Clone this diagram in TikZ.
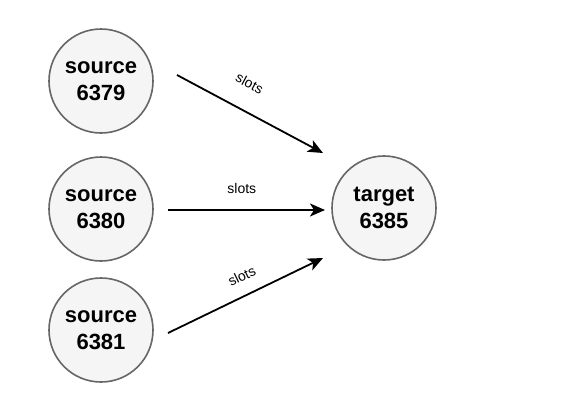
\documentclass[tikz,border=0pt]{standalone}
\usepackage{fontspec}
\setmainfont{Liberation Sans}
\usetikzlibrary{arrows.meta}
\definecolor{rimgray}{HTML}{666666}
\definecolor{fillgray}{HTML}{F5F5F5}
\tikzstyle{server}=[circle, draw=rimgray, fill=fillgray, line width=1.6pt, minimum size=104pt, inner sep=0, align=center, font=\fontsize{22}{26.4}\selectfont\bfseries]
\tikzstyle{transfer}=[line width=1.8pt, -{Stealth[length=15pt, width=13pt, inset=4pt]}]
\tikzstyle{slotlabel}=[font=\fontsize{14}{16}\selectfont, inner sep=0, sloped]

\begin{document}
\begin{tikzpicture}[x=1pt, y=-1pt]
    \useasboundingbox (0, 0) rectangle (581, 413);
    \node[server] (src_a) at (101, 81) {source\\6379};
    \node[server] (src_b) at (101, 209) {source\\6380};
    \node[server] (src_c) at (101, 330) {source\\6381};
    \node[server] (tgt) at (384, 208) {target\\6385};

    \coordinate (a_out) at (177, 75);
    \coordinate (b_out) at (168, 210);
    \coordinate (c_out) at (168, 333);
    \coordinate (a_in) at (323, 153);
    \coordinate (b_in) at (325, 210);
    \coordinate (c_in) at (323, 258);

    \draw[transfer] (a_out) to node[slotlabel, pos=0.41, above=21pt] {slots} (a_in);
    \draw[transfer] (b_out) to node[slotlabel, pos=0.47, above=15pt] {slots} (b_in);
    \draw[transfer] (c_out) to node[slotlabel, pos=0.53, above=13pt] {slots} (c_in);
  \end{tikzpicture}
\end{document}
